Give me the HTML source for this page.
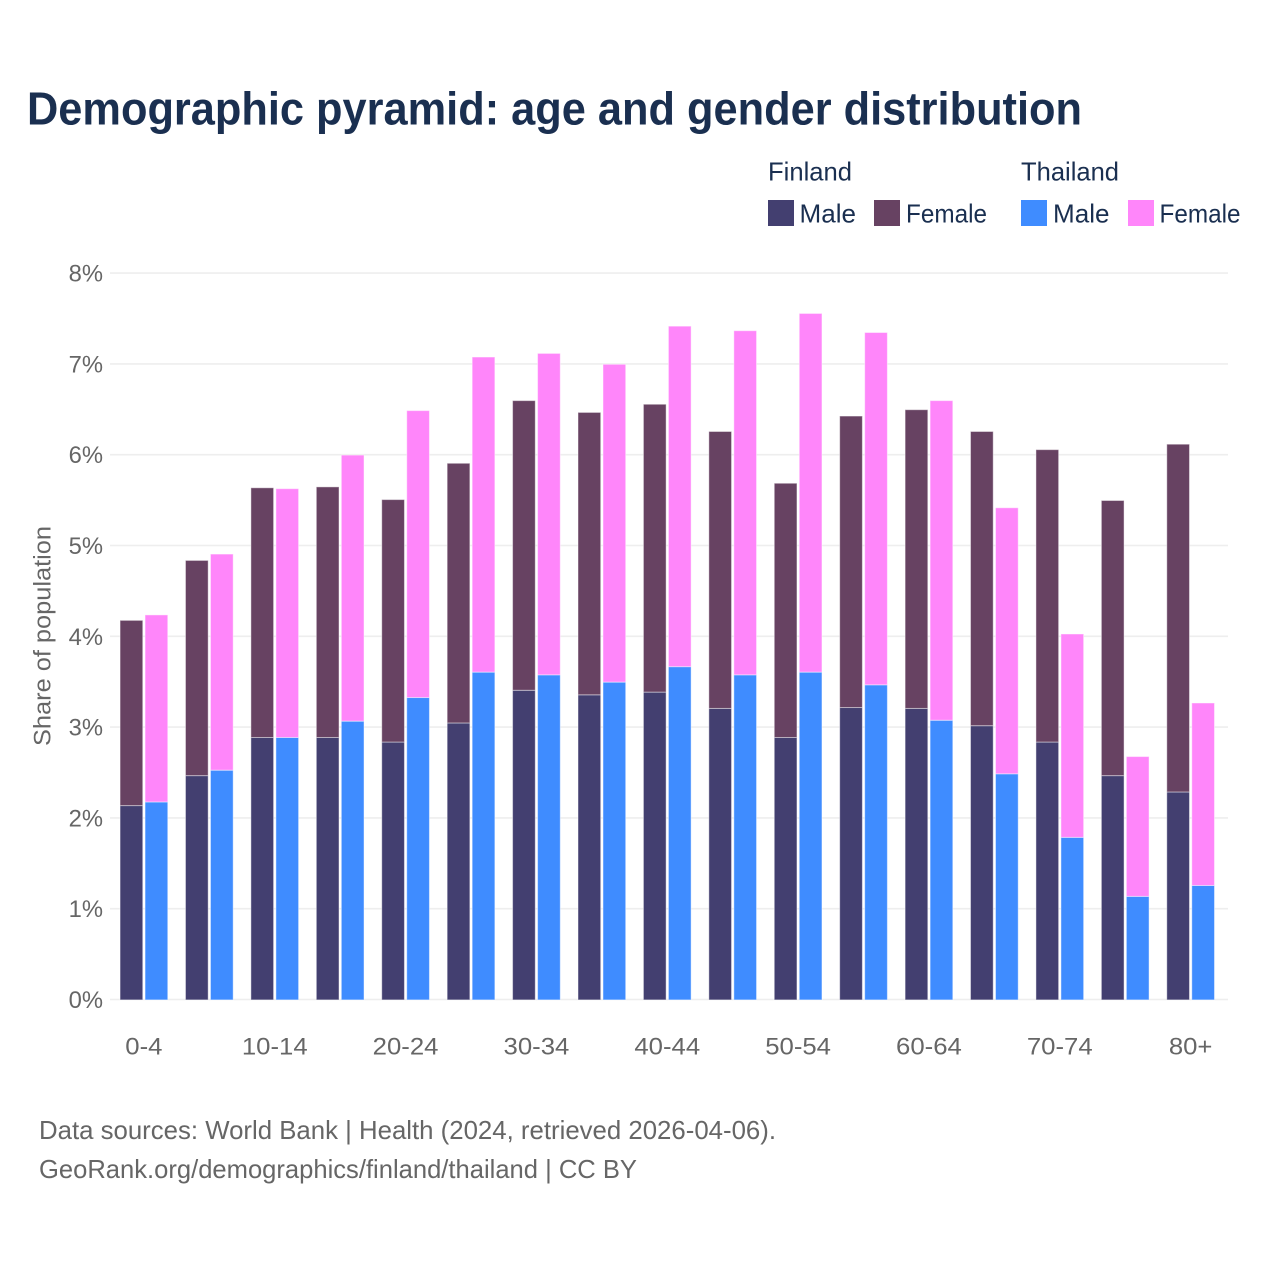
<!DOCTYPE html>
<html lang="en">
<head>
<meta charset="utf-8">
<title>Demographic pyramid: age and gender distribution</title>
<style>
html,body{margin:0;padding:0;background:#fff;width:1280px;height:1280px;overflow:hidden}
svg{display:block}
text{font-family:"Liberation Sans",sans-serif}
.ink{fill:#1a2f50}
.muted{fill:#666666}
</style>
</head>
<body>
<svg id="chart" xmlns="http://www.w3.org/2000/svg" width="1280" height="1280" viewBox="0 0 1280 1280">
  <rect x="0" y="0" width="1280" height="1280" fill="#fff"/>
  <text class="ink" x="27" y="124.5" font-size="46" font-weight="700" textLength="1055" lengthAdjust="spacingAndGlyphs">Demographic pyramid: age and gender distribution</text>

  <g>
    <text class="ink" x="768" y="180.3" font-size="26" textLength="84" lengthAdjust="spacingAndGlyphs">Finland</text>
    <text class="ink" x="1021" y="180.3" font-size="26" textLength="98" lengthAdjust="spacingAndGlyphs">Thailand</text>
    <rect x="768" y="200" width="26" height="26" fill="#433f70"/>
    <text class="ink" x="799.5" y="222.3" font-size="26" textLength="56.5" lengthAdjust="spacingAndGlyphs">Male</text>
    <rect x="874" y="200" width="26" height="26" fill="#674262"/>
    <text class="ink" x="906" y="222.3" font-size="26" textLength="81" lengthAdjust="spacingAndGlyphs">Female</text>
    <rect x="1021" y="200" width="26" height="26" fill="#3f8cff"/>
    <text class="ink" x="1053" y="222.3" font-size="26" textLength="56.5" lengthAdjust="spacingAndGlyphs">Male</text>
    <rect x="1128" y="200" width="26" height="26" fill="#ff86fa"/>
    <text class="ink" x="1159.5" y="222.3" font-size="26" textLength="81" lengthAdjust="spacingAndGlyphs">Female</text>
  </g>

  <g id="grid"></g>
  <g id="bars" transform="translate(0 0.4)"></g>
  <g id="yticks"></g>
  <g id="xticks"></g>

  <text class="muted" transform="translate(50.5 636) rotate(-90)" text-anchor="middle" font-size="24.5" textLength="220" lengthAdjust="spacingAndGlyphs">Share of population</text>

  <text class="muted" x="39" y="1139" font-size="26" textLength="737" lengthAdjust="spacingAndGlyphs">Data sources: World Bank | Health (2024, retrieved 2026-04-06).</text>
  <text class="muted" x="39" y="1178" font-size="26" textLength="598" lengthAdjust="spacingAndGlyphs">GeoRank.org/demographics/finland/thailand | CC BY</text>
</svg>
<script>
const categories = ["0-4","5-9","10-14","15-19","20-24","25-29","30-34","35-39","40-44","45-49","50-54","55-59","60-64","65-69","70-74","75-79","80+"];
const xTickLabels = ["0-4","10-14","20-24","30-34","40-44","50-54","60-64","70-74","80+"];
const yTickValues = [0,1,2,3,4,5,6,7,8];
const finlandMale = [2.14,2.47,2.89,2.89,2.84,3.05,3.41,3.36,3.39,3.21,2.89,3.22,3.21,3.02,2.84,2.47,2.29];
const finlandFemale = [2.04,2.37,2.75,2.76,2.67,2.86,3.19,3.11,3.17,3.05,2.80,3.21,3.29,3.24,3.22,3.03,3.83];
const thailandMale = [2.18,2.53,2.89,3.07,3.33,3.61,3.58,3.50,3.67,3.58,3.61,3.47,3.08,2.49,1.79,1.14,1.26];
const thailandFemale = [2.06,2.38,2.74,2.93,3.16,3.47,3.54,3.50,3.75,3.79,3.95,3.88,3.52,2.93,2.24,1.54,2.01];

const NS = "http://www.w3.org/2000/svg";
const plotLeft = 110, plotRight = 1228, plotBase = 999.5, unitHeight = 90.8;
const bandStart = 111.2, bandStep = 65.42, barWidth = 22.7, barGap = 2.3;
function yScale(v){ return plotBase - v * unitHeight; }
function xCenter(i){ return bandStart + bandStep * (i + 0.5); }
function make(tag, attrs, parent){
  const el = document.createElementNS(NS, tag);
  for (const k in attrs) el.setAttribute(k, attrs[k]);
  parent.appendChild(el);
  return el;
}
function fitText(el, ratio){
  el.setAttribute('textLength', (el.getComputedTextLength() * ratio).toFixed(1));
  el.setAttribute('lengthAdjust', 'spacingAndGlyphs');
}

const grid = document.getElementById('grid');
const yticks = document.getElementById('yticks');
yTickValues.forEach(function(v){
  const line = make('line', {x1: plotLeft, x2: plotRight, y1: yScale(v), y2: yScale(v), stroke: '#eeeeee', 'stroke-width': 1.6}, grid);
  
  
  const t = make('text', {x: 103, y: yScale(v) + 8.5, 'text-anchor': 'end', 'font-size': 24.5, class: 'muted'}, yticks);
  
  
  t.textContent = v + '%';
  fitText(t, 0.97);
});

const bars = document.getElementById('bars');
function drawStack(i, x, lower, upper, lowerColor, upperColor){
  const y0 = yScale(lower);
  const y1 = yScale(lower + upper);
  const a = make('rect', {x: x, y: y0, width: barWidth, height: plotBase - y0, fill: lowerColor, stroke: '#ffffff', 'stroke-opacity': 0.45, 'stroke-width': 1}, bars);
  
  
  const b = make('rect', {x: x, y: y1, width: barWidth, height: y0 - y1, fill: upperColor, stroke: '#ffffff', 'stroke-opacity': 0.45, 'stroke-width': 1}, bars);
  
  
}
categories.forEach(function(c, i){
  const cx = xCenter(i);
  drawStack(i, cx - barWidth - barGap / 2, finlandMale[i], finlandFemale[i], '#433f70', '#674262');
  drawStack(i, cx + barGap / 2, thailandMale[i], thailandFemale[i], '#3f8cff', '#ff86fa');
});

const xticks = document.getElementById('xticks');
xTickLabels.forEach(function(label){
  const i = categories.indexOf(label);
  const t = make('text', {x: xCenter(i), y: 1054.5, 'text-anchor': 'middle', 'font-size': 24.5, class: 'muted'}, xticks);
  
  
  t.textContent = label;
  fitText(t, 1.05);
});
</script>
</body>
</html>
